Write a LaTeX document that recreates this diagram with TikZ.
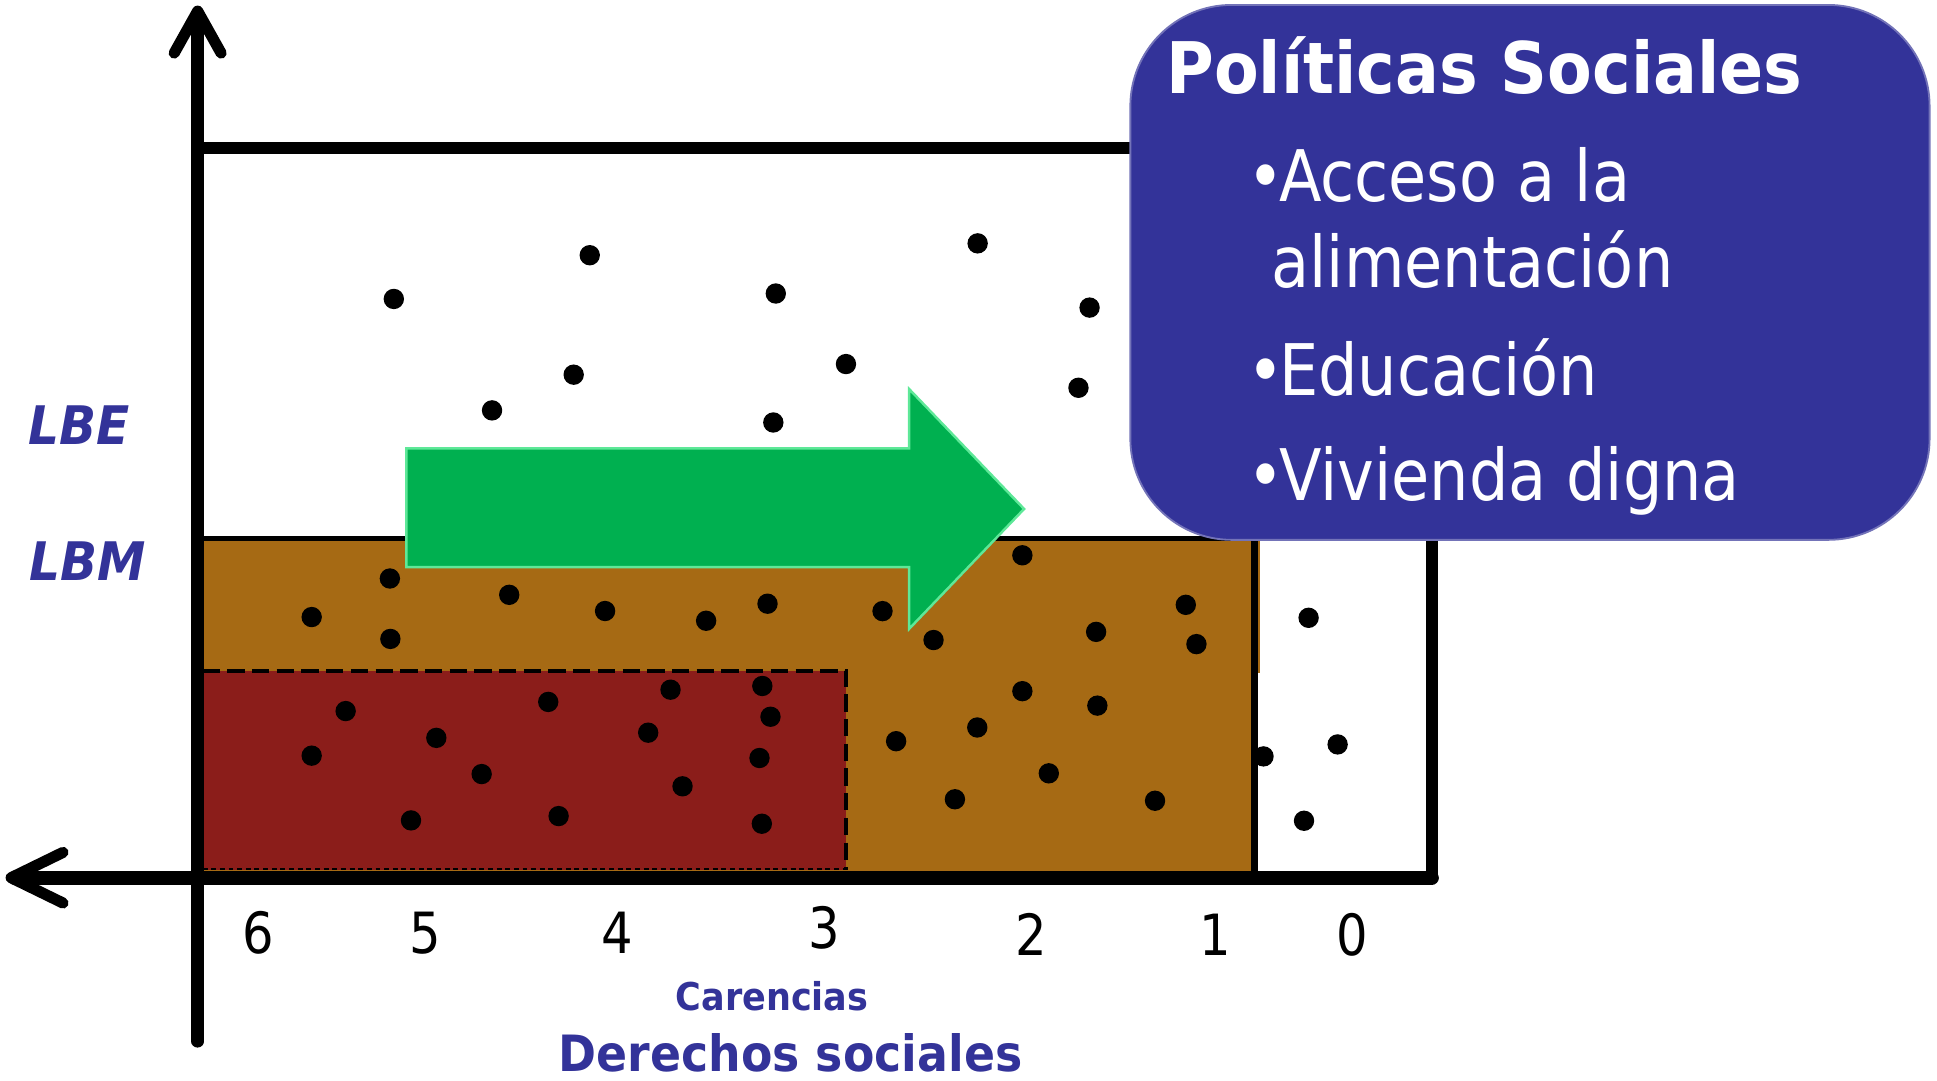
\documentclass[tikz,border=0pt]{standalone}
\usepackage{fontspec}
\newfontfamily\tah[FakeStretch=0.873]{DejaVu Sans}
\newfontfamily\tahb[FakeStretch=0.915]{DejaVu Sans}
\definecolor{brownfill}{HTML}{A66A14}
\definecolor{redfill}{HTML}{8B1D1A}
\definecolor{arrowgreen}{HTML}{00B050}
\definecolor{arrowedge}{HTML}{5EE898}
\definecolor{navy}{HTML}{333399}
\definecolor{calloutedge}{HTML}{7373B8}
\newcommand{\blt}{•\kern-4.5pt}
\begin{document}
\begin{tikzpicture}[x=1pt,y=-1pt,
  dot/.style={fill=black,circle,inner sep=0pt,minimum size=16.5pt},
  boxline/.style={line width=10pt,line cap=round,line join=round},
  tipline/.style={line width=9pt,line cap=round,line join=round},
  num/.style={anchor=base,inner sep=0pt,font=\tah\fontsize{46}{48}\selectfont},
  callouttext/.style={anchor=base west,inner sep=0pt,text=white,font=\tah\fontsize{57.6}{60}\selectfont},
  bluelabel/.style={inner sep=0pt,text=navy}]
\useasboundingbox (0,0) rectangle (1568,875);
% fills
\fill[brownfill] (162,438) rectangle (1015,706);
\fill[brownfill] (1015,438) rectangle (1020,545);
\fill[redfill] (164,543) rectangle (685,704);
\draw[line width=3.5pt,dash pattern=on 14pt off 6pt] (164,543) -- (685,543) -- (685,704);
\draw[line width=1pt,dash pattern=on 4pt off 3pt] (164,703.5) -- (685,703.5);
% inner lines
\draw[line width=5pt] (1015.5,438) -- (1015.5,706);
\draw[line width=4.5pt] (160,436) -- (1159,436);
% box and axes
\draw[boxline] (160,120) -- (1159,120) -- (1159,710.5);
\draw[line width=11.5pt,line cap=round] (1159,710.5) -- (12,710.5);
\draw[boxline] (160,843) -- (160,12);
\coordinate (vtip) at (160,9);
\coordinate (htip) at (9,710.5);
\draw[tipline] (141,43) -- (vtip) -- (179,43);
\draw[tipline] (51,690) -- (htip) -- (51,731);
% dots
\foreach \px/\py [count=\i] in {
  318.8/242, 477.4/206.6, 628/237.6, 791.4/197, 882/249, 464.4/303.3,
  684.8/294.7, 873/313.9, 398.3/332.2, 626/342,
  315.6/468.3, 252.3/499.5, 316/517.2, 412.2/481.5, 489.8/494.6, 571.6/502.5,
  621.3/488.7, 714.4/494.7, 755.7/518.1, 827.6/449.5, 887.3/511.5, 959.9/489.6,
  968.5/521.4, 827.6/559.5, 888.3/571.2, 791.1/588.9, 725.4/600, 849/626,
  773/647, 935/648.2,
  279.8/575.6, 252.3/611.7, 353.2/597.3, 389.9/626.6, 443.8/568.2, 332.7/664.1,
  452.2/660.6, 524.7/593.1, 542.8/558.3, 552.5/636.5, 617.1/555.3, 623.7/580.2,
  614.8/613.6, 616.7/666.8,
  1059.3/500.1, 1082.8/602.6, 1022.8/612.3, 1055.6/664.4}
  \node[dot] (d\i) at (\px,\py) {};
% green arrow
\draw[fill=arrowgreen,draw=arrowedge,line width=2pt,line join=miter]
  (329,363) -- (736,363) -- (736,315) -- (829,412) -- (736,509) -- (736,459) -- (329,459) -- cycle;
% callout
\draw[fill=navy,draw=calloutedge,line width=1.5pt,rounded corners=82pt]
  (915,4) rectangle (1562,437);
\node[anchor=base west,inner sep=0pt,text=white,font=\tahb\bfseries\fontsize{57.6}{60}\selectfont] (title) at (944,76) {Políticas Sociales};
\node[callouttext] (it1) at (1010,163) {\blt Acceso a la};
\node[callouttext] (it1b) at (1029,233) {alimentación};
\node[callouttext] (it2) at (1010,320) {\blt Educación};
\node[callouttext] (it3) at (1010,405) {\blt Vivienda digna};
% axis labels
\node[bluelabel,anchor=base west,font=\tahb\bfseries\itshape\fontsize{43}{45}\selectfont] (lbe) at (23,360) {LBE};
\node[bluelabel,anchor=base west,font=\tahb\bfseries\itshape\fontsize{43}{45}\selectfont] (lbm) at (23.5,470) {LBM};
\node[num] (n6) at (209,772) {6};
\node[num] (n5) at (344,772) {5};
\node[num] (n4) at (500,772) {4};
\node[num] (n3) at (667,768) {3};
\node[num] (n2) at (835,773.5) {2};
\node[num] (n1) at (984,773.5) {1};
\node[num] (n0) at (1095,773.5) {0};
\node[bluelabel,anchor=base,font=\tahb\bfseries\fontsize{31}{33}\selectfont] (car) at (625,818) {Carencias};
\node[bluelabel,anchor=base,font=\tahb\bfseries\fontsize{40.5}{42}\selectfont] (der) at (640,867) {Derechos sociales};
\end{tikzpicture}
\end{document}
